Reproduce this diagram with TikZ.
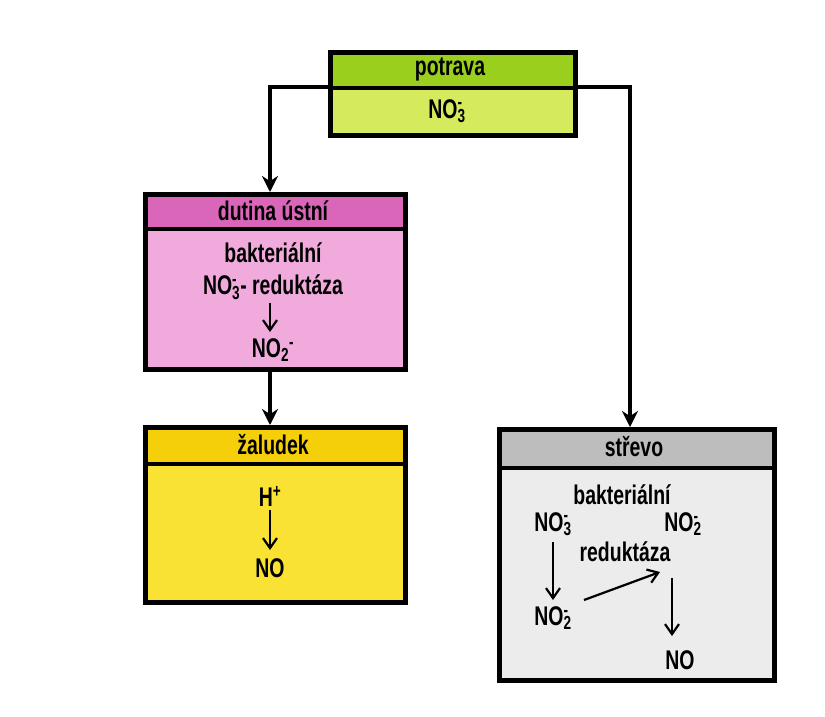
\documentclass[tikz,border=0pt]{standalone}
\usepackage{fontspec}
\setmainfont{Liberation Sans}[FakeStretch=0.72]
\usetikzlibrary{arrows.meta}
\newcommand\myno[1]{NO\rlap{\textsuperscript{-}}\textsubscript{#1}}
\definecolor{gH}{HTML}{9BCF1E}\definecolor{gB}{HTML}{D5EA5C}
\definecolor{pH}{HTML}{D966B8}\definecolor{pB}{HTML}{F0AADC}
\definecolor{yH}{HTML}{F5CF0A}\definecolor{yB}{HTML}{F9E233}
\definecolor{sH}{HTML}{BDBDBD}\definecolor{sB}{HTML}{ECECEC}
\tikzset{box/.style={draw=black,line width=5pt},
 conn/.style={line width=3.5pt,-{Stealth[length=16pt,width=16pt]}},
 small/.style={line width=2.2pt,-{Straight Barb[length=10pt,width=14pt]}},
 ttl/.style={font=\fontsize{27}{29}\selectfont\bfseries},
 txt/.style={font=\fontsize{27}{29}\selectfont\bfseries,inner sep=0pt}}
\begin{document}
\begin{tikzpicture}[x=1pt,y=-1pt]
\useasboundingbox (0,0) rectangle (825,716);
% potrava
\fill[gH] (328,50) rectangle (573,88); \fill[gB] (328,88) rectangle (573,133);
\node[box,minimum width=245pt,minimum height=83pt,anchor=north west] (pot) at (328,50) {};
\draw[line width=3.5pt] (328,88)--(573,88);
\node[ttl] (potT) at (450,69) {potrava};
\node[txt] (potN) at (447,111) {\myno{3}};
% dutina
\fill[pH] (143,192) rectangle (403,229); \fill[pB] (143,229) rectangle (403,367);
\node[box,minimum width=260pt,minimum height=175pt,anchor=north west] (dut) at (143,192) {};
\draw[line width=3.5pt] (143,229)--(403,229);
\node[ttl] at (273,211) {dutina ústní};
\node[txt] at (273,253) {bakteriální};
\node[txt] (d1) at (273,287) {\myno{3}- reduktáza};
\node[txt] (d2) at (273,350) {NO\textsubscript{2}\textsuperscript{-}};
\coordinate (da) at (270,303); \coordinate (db) at (270,332);
\draw[small] (da)--(db);
% zaludek
\fill[yH] (143,425) rectangle (403,464); \fill[yB] (143,464) rectangle (403,600);
\node[box,minimum width=260pt,minimum height=175pt,anchor=north west] (zal) at (143,425) {};
\draw[line width=3.5pt] (143,464)--(403,464);
\node[ttl] at (273,445) {žaludek};
\node[txt] (z1) at (270,496) {H\textsuperscript{+}};
\node[txt] (z2) at (270,568) {NO};
\coordinate (za) at (270,510); \coordinate (zb) at (270,550);
\draw[small] (za)--(zb);
% strevo
\fill[sH] (497,427) rectangle (772,468); \fill[sB] (497,468) rectangle (772,678);
\node[box,minimum width=275pt,minimum height=251pt,anchor=north west] (str) at (497,427) {};
\draw[line width=3.5pt] (497,468)--(772,468);
\node[ttl] at (634,447) {střevo};
\node[txt] at (622,495) {bakteriální};
\node[txt] (s1) at (553,524) {\myno{3}};
\node[txt] (s2) at (683,524) {\myno{2}};
\node[txt] at (625,552) {reduktáza};
\node[txt] (s3) at (553,618) {\myno{2}};
\node[txt] (s4) at (680,660) {NO};
\coordinate (a1) at (553,542); \coordinate (a2) at (553,600);
\coordinate (b1) at (584,600); \coordinate (b2) at (660,572);
\coordinate (c1) at (672,578); \coordinate (c2) at (672,636);
\draw[small] (a1)--(a2); \draw[small] (b1)--(b2); \draw[small] (c1)--(c2);
% connectors
\coordinate (p1) at (328,87); \coordinate (p2) at (573,87);
\coordinate (dt) at (270,192); \coordinate (st) at (630,427);
\coordinate (db2) at (270,367); \coordinate (zt) at (270,425);
\draw[conn] (p1) -| (dt);
\draw[conn] (p2) -| (st);
\draw[conn] (db2) -- (zt);
\end{tikzpicture}
\end{document}
